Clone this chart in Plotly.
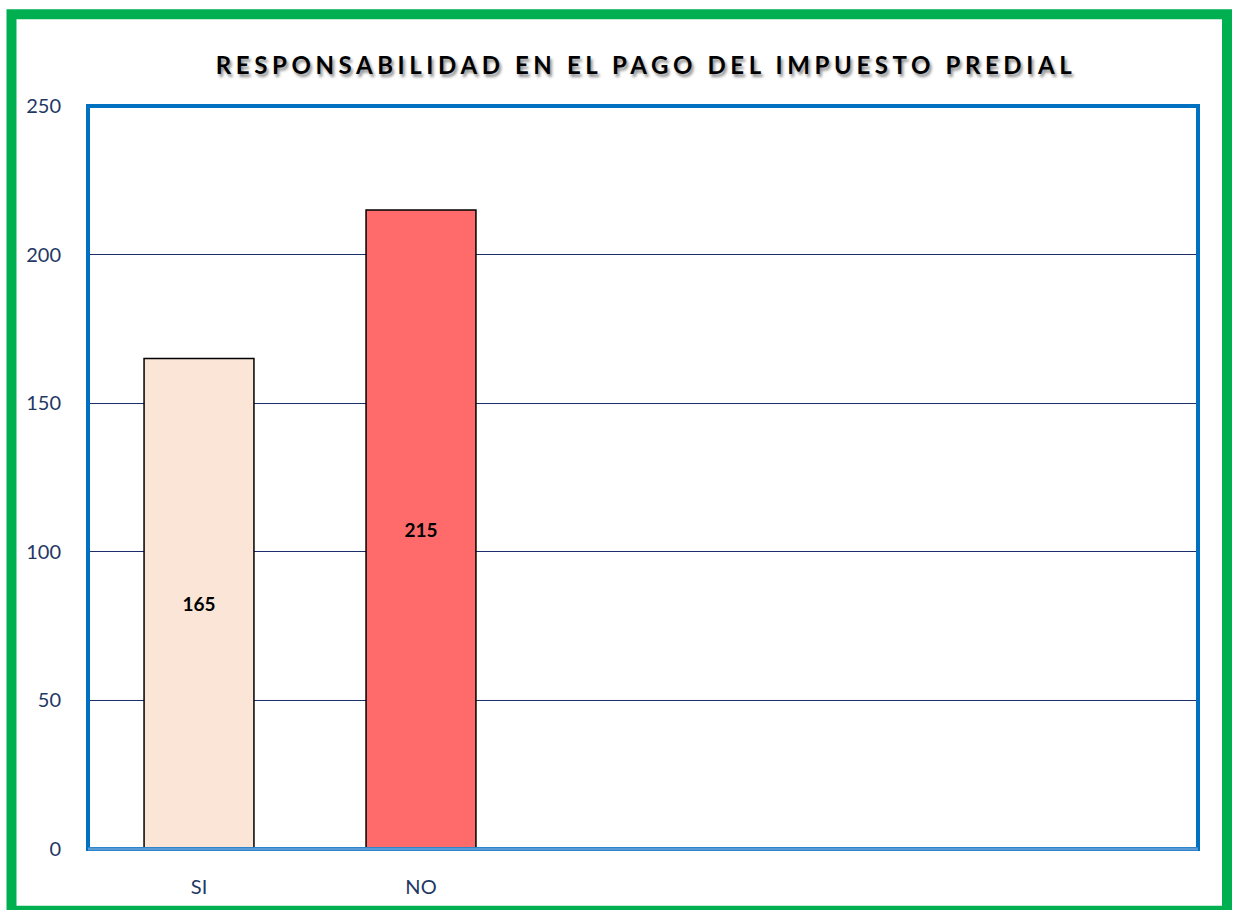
import plotly.graph_objects as go

categories = ["SI", "NO"]
values = [165, 215]
bar_colors = ["#FAE5D6", "#FF6B6B"]
n_slots = 5
y_ticks = [0, 50, 100, 150, 200, 250]
title_text = "RESPONSABILIDAD EN EL PAGO DEL IMPUESTO PREDIAL"

W, H = 1234, 910
ml, mr, mt, mb = 88, 36, 106, 58
pw, ph = W - ml - mr, H - mt - mb

def px_x(p):
    return (p - ml) / pw

def px_y(p):
    return (H - mb - p) / ph

xs = list(range(len(categories)))

fig = go.Figure()
fig.add_trace(go.Bar(
    x=xs, y=values,
    marker=dict(color=bar_colors, line=dict(color="#000000", width=1.5)),
    width=0.495,
    text=[str(v) for v in values],
    textposition="inside",
    insidetextanchor="middle",
    textangle=0,
    textfont=dict(family="Lato", size=19, color="#000000", weight="bold"),
    hoverinfo="skip",
))

navy = "#1F3864"
fig.update_layout(
    width=W, height=H,
    margin=dict(l=ml, r=mr, t=mt, b=mb),
    paper_bgcolor="white", plot_bgcolor="white",
    showlegend=False,
    title=dict(
        text='<span style="letter-spacing:4.6px">' + title_text + '</span>',
        x=px_x(646), xref="paper", xanchor="center",
        y=1 - 66 / H, yref="container", yanchor="middle",
        font=dict(family="Lato", size=24, color="#000000", weight="bold",
                  shadow="2px 3px 3px rgba(0,0,0,0.45)"),
    ),
    xaxis=dict(
        range=[-0.5, n_slots - 0.5],
        tickvals=xs, ticktext=categories,
        showgrid=False, zeroline=False, showline=False,
        ticks="outside", ticklen=20, tickcolor="rgba(0,0,0,0)",
        tickfont=dict(family="Lato", size=20, color=navy),
    ),
    yaxis=dict(
        range=[0, 250], tickvals=y_ticks,
        showgrid=True, gridcolor="#1A2F6B", gridwidth=1.4,
        zeroline=False, showline=False,
        ticks="outside", ticklen=22, tickcolor="rgba(0,0,0,0)",
        tickfont=dict(family="Lato", size=20, color=navy),
    ),
    shapes=[
        # outer green frame
        dict(type="rect", xref="paper", yref="paper",
             x0=px_x(11.5), x1=px_x(1227), y0=px_y(914), y1=px_y(14),
             line=dict(color="#00B050", width=10), fillcolor="rgba(0,0,0,0)",
             layer="above"),
        # blue plot frame
        dict(type="rect", xref="paper", yref="paper",
             x0=0, x1=1, y0=0, y1=1,
             line=dict(color="#0070C0", width=4), fillcolor="rgba(0,0,0,0)",
             layer="above"),
        # lighter bottom axis
        dict(type="line", xref="paper", yref="paper",
             x0=0, x1=1, y0=0, y1=0,
             line=dict(color="#5B9BD5", width=3), layer="above"),
    ],
)

fig.write_html(
    "out.html",
    config={"displayModeBar": False},
    post_script="document.body.style.margin='0';document.body.style.overflow='hidden';",
)
